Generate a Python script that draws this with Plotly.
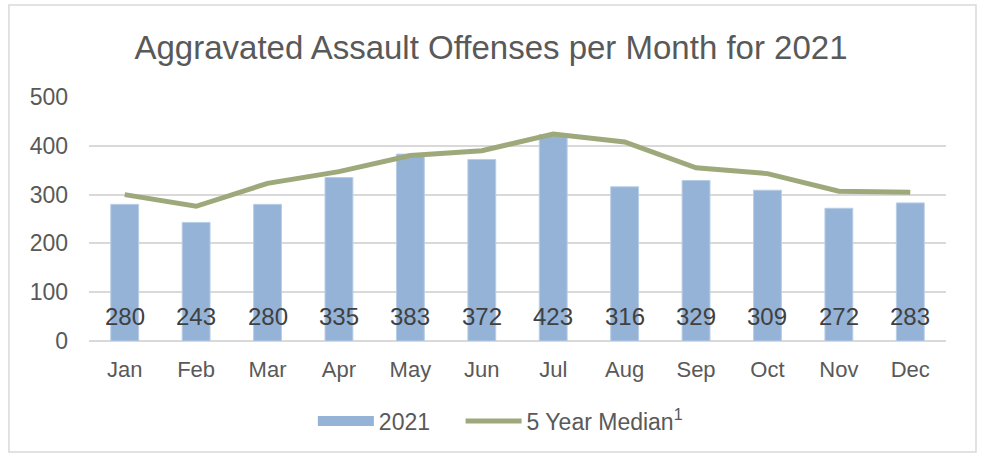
import plotly.graph_objects as go

months = ["Jan", "Feb", "Mar", "Apr", "May", "Jun", "Jul", "Aug", "Sep", "Oct", "Nov", "Dec"]
offenses_2021 = [280, 243, 280, 335, 383, 372, 423, 316, 329, 309, 272, 283]
median_5yr = [300, 276, 323, 347, 380, 390, 424, 408, 355, 343, 307, 305]

FONT = "Liberation Sans"
TEXT_GRAY = "#595959"
BAR_BLUE = "#95B3D7"
NBSP = "\u00a0"

fig = go.Figure()
fig.add_trace(go.Bar(
    x=months, y=offenses_2021, name="2021", showlegend=False,
    marker=dict(color=BAR_BLUE, line=dict(color="#B8CDE6", width=1)),
))
# legend entry for the bars, drawn as a wide swatch
fig.add_trace(go.Scatter(
    x=[None], y=[None], name="2021" + NBSP * 4, mode="lines",
    line=dict(color=BAR_BLUE, width=13), showlegend=True,
))
fig.add_trace(go.Scatter(
    x=months, y=median_5yr, name="5 Year Median<sup>1</sup>",
    mode="lines", line=dict(color="#9EA97B", width=5),
))

# value labels sitting near the base of each bar
for m, v in zip(months, offenses_2021):
    fig.add_annotation(x=m, y=0, text=str(v), showarrow=False, yshift=25,
                       font=dict(family=FONT, size=24, color="#404040"))

# outer chart frame
fig.add_shape(type="rect", xref="paper", yref="paper",
              x0=-0.0934, x1=1.035, y0=-0.455, y1=1.377,
              line=dict(color="#D9D9D9", width=1.5), fillcolor="rgba(0,0,0,0)", layer="below")

fig.update_layout(
    width=982, height=455,
    margin=dict(l=89, r=36, t=97, b=114),
    paper_bgcolor="white", plot_bgcolor="white",
    font=dict(family=FONT, color=TEXT_GRAY),
    title=dict(text="Aggravated Assault Offenses per Month for 2021",
               x=0.5, xanchor="center", xref="container",
               y=1 - 47 / 455, yanchor="middle", yref="container",
               font=dict(family=FONT, size=33, color=TEXT_GRAY)),
    bargap=0.61,
    showlegend=True,
    legend=dict(orientation="h", x=0.48, xanchor="center", y=-0.328, yanchor="middle",
                font=dict(family=FONT, size=23, color=TEXT_GRAY), itemwidth=56,
                tracegroupgap=0),
    xaxis=dict(showgrid=False, showline=False, ticks="",
               tickfont=dict(family=FONT, size=22, color=TEXT_GRAY), ticklabelstandoff=13),
    yaxis=dict(range=[0, 500], dtick=100, showgrid=True, gridcolor="#D9D9D9", gridwidth=1.5,
               zeroline=True, zerolinecolor="#D9D9D9", zerolinewidth=1.5, showline=False,
               ticks="", tickfont=dict(family=FONT, size=23, color=TEXT_GRAY), ticklabelstandoff=20),
)

fig.write_html("out.html")
